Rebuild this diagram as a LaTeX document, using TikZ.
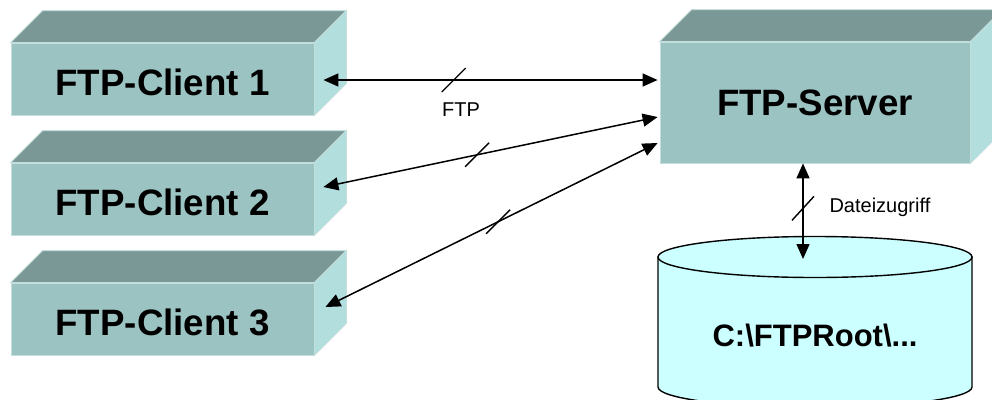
\documentclass[tikz,border=0pt]{standalone}
\usepackage{fontspec}
\setmainfont{Liberation Sans}
\usetikzlibrary{arrows.meta,calc}
\definecolor{frontc}{RGB}{155,195,194}
\definecolor{topc}{RGB}{122,153,150}
\definecolor{sidec}{RGB}{178,222,222}
\definecolor{edgec}{RGB}{196,222,222}
\definecolor{dbc}{RGB}{204,255,255}
\tikzset{
  front/.style={fill=frontc, draw=edgec, line width=0.8pt, inner sep=0pt,
    font=\fontsize{36.7}{40}\selectfont\bfseries},
  clientbox/.style={front, minimum width=303pt, minimum height=72pt, text height=32pt, text depth=0pt},
  topface/.style={fill=topc, draw=edgec, line width=0.8pt},
  sideface/.style={fill=sidec, draw=edgec, line width=0.8pt},
  link/.style={line width=1.5pt, {Triangle[length=15pt,width=13pt]}-{Triangle[length=15pt,width=13pt]}},
  tickmark/.style={line width=1.4pt},
  smalltext/.style={font=\fontsize{20}{24}\selectfont},
  dbstyle/.style={fill=dbc, draw=black, line width=1.4pt}
}
\newcommand{\drawcuboid}[2]{%
  \filldraw[topface] (#1.north west) -- ++(#2,-#2) -- ($(#1.north east)+(#2,-#2)$) -- (#1.north east) -- cycle;
  \filldraw[sideface] (#1.north east) -- ++(#2,-#2) -- ($(#1.south east)+(#2,-#2)$) -- (#1.south east) -- cycle;
}
\begin{document}
\begin{tikzpicture}[x=1pt,y=-1pt]
\clip (0,0) rectangle (992,399);
\useasboundingbox (0,0) rectangle (992,399);
% clients
\node[clientbox] (c1) at (162.5,79) {FTP-Client 1};
\drawcuboid{c1}{32}
\node[clientbox] (c2) at (162.5,199) {FTP-Client 2};
\drawcuboid{c2}{32}
\node[clientbox] (c3) at (162.5,319) {FTP-Client 3};
\drawcuboid{c3}{32}
% server
\node[front, minimum width=310pt, minimum height=121pt] (srv) at (815,102.5) {FTP-Server};
\drawcuboid{srv}{32}
% database
\filldraw[dbstyle] (658,257) -- (658,387) arc[start angle=180, end angle=0, x radius=157, y radius=20.5] -- (972,257) -- cycle;
\filldraw[dbstyle] (815,257) ellipse[x radius=157, y radius=20.5];
\coordinate (dbtop) at (803,259);
\node[font=\fontsize{31}{36}\selectfont\bfseries] (db) at (815,336) {C:\textbackslash FTPRoot\textbackslash ...};
% links
\draw[link] ($(c1.east)+(9,1)$) -- ($(srv.west)+(-2,-22.5)$) coordinate[pos=0.39] (t1);
\draw[tickmark] ($(t1)+(-12,12)$) -- ($(t1)+(12,-12)$);
\node[smalltext] (ftp) at (461,110) {FTP};
\draw[link] ($(c2.east)+(9,-12)$) -- ($(srv.west)+(-2,14.5)$) coordinate[pos=0.46] (t2);
\draw[tickmark] ($(t2)+(-12,12)$) -- ($(t2)+(12,-12)$);
\draw[link] ($(c3.east)+(11,-12)$) -- ($(srv.west)+(-2,40.5)$) coordinate[pos=0.52] (t3);
\draw[tickmark] ($(t3)+(-12,12)$) -- ($(t3)+(12,-12)$);
\draw[link] ($(srv.south)+(-12,0)$) -- (dbtop) coordinate[pos=0.47] (t4);
\draw[tickmark] ($(t4)+(-11,12)$) -- ($(t4)+(11,-12)$);
\node[smalltext, anchor=west] (dz) at (826,207) {Dateizugriff};
\end{tikzpicture}
\end{document}
